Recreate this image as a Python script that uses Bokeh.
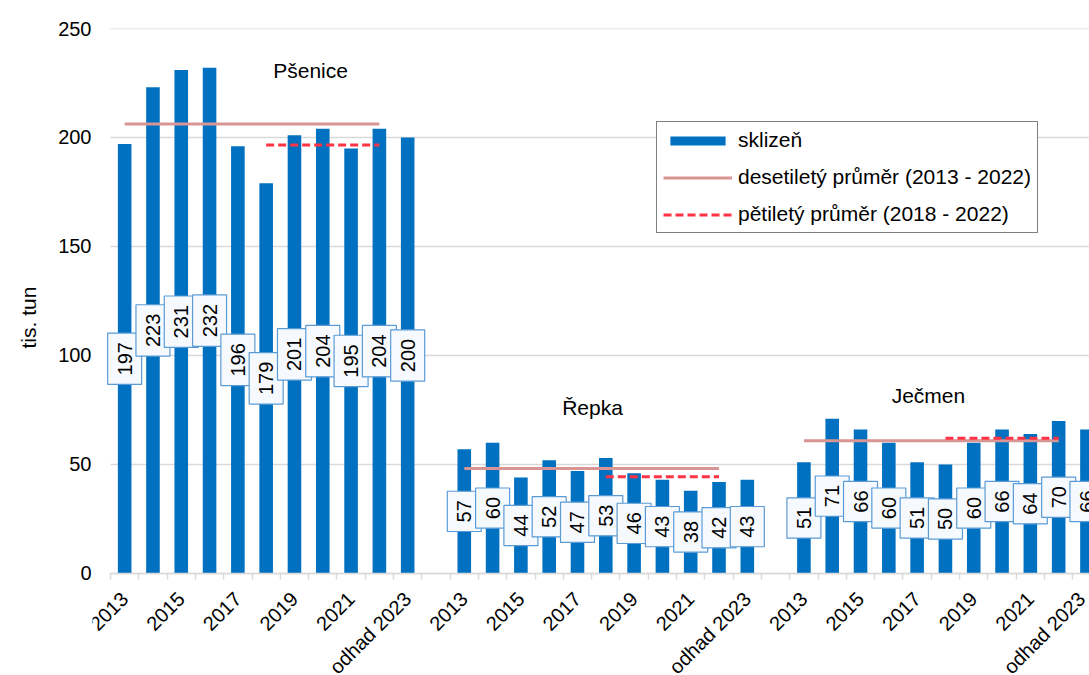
import math
from bokeh.plotting import figure
from bokeh.models import (ColumnDataSource, FixedTicker, Legend, LegendItem, Range1d, Title)
from bokeh.core.properties import value
from bokeh.embed import file_html
from bokeh.resources import INLINE

# ---- data ----
crops = ["Pšenice", "Řepka", "Ječmen"]
years = ["2013", "2014", "2015", "2016", "2017", "2018", "2019", "2020", "2021", "2022", "odhad 2023"]
psenice = [197, 223, 231, 232, 196, 179, 201, 204, 195, 204, 200]
repka = [57, 60, 44, 52, 47, 53, 46, 43, 38, 42, 43]
jecmen = [51, 71, 66, 60, 51, 50, 60, 66, 64, 70, 66]
avg10 = [206.2, 48.2, 60.9]   # desetiletý průměr (2013 - 2022)
avg5 = [196.6, 44.4, 62.0]    # pětiletý průměr (2018 - 2022)
tick_years = ["2013", "2015", "2017", "2019", "2021", "odhad 2023"]
y_ticks = [0, 50, 100, 150, 200, 250]

series = [psenice, repka, jecmen]
slots_per_group = len(years) + 1

# ---- build sources ----
bx, by, lbl, ly = [], [], [], []
for g, vals in enumerate(series):
    for i, v in enumerate(vals):
        x = g * slots_per_group + i + 0.5
        bx.append(x)
        by.append(v)
        lbl.append(str(int(round(v))))
        ly.append(v / 2.0)
bars = ColumnDataSource(dict(x=bx, top=by))
labels = ColumnDataSource(dict(x=bx, y=ly, text=lbl))

i2013 = years.index("2013")
i2018 = years.index("2018")
i2022 = years.index("2022")
s10 = ColumnDataSource(dict(
    x0=[g * slots_per_group + i2013 + 0.5 for g in range(3)],
    x1=[g * slots_per_group + i2022 + 0.5 for g in range(3)],
    y=avg10))
s5 = ColumnDataSource(dict(
    x0=[g * slots_per_group + i2018 + 0.5 for g in range(3)],
    x1=[g * slots_per_group + i2022 + 0.5 for g in range(3)],
    y=avg5))

FONT = "Liberation Sans"
X_START, X_END = -0.636, 34.59

# frame runs to the bottom edge so the rotated category labels under y=0 are visible
p = figure(width=1089, height=675, output_backend="svg", toolbar_location=None,
           x_range=Range1d(X_START, X_END), y_range=Range1d(-46.79, 250),
           min_border_left=92, min_border_right=0, min_border_top=28, min_border_bottom=0)
p.outline_line_color = None
p.background_fill_color = "white"

# gridlines (only across the category area)
p.xgrid.grid_line_color = None
p.ygrid.grid_line_color = None
p.segment(x0=[0] * len(y_ticks), x1=[X_END] * len(y_ticks), y0=y_ticks, y1=y_ticks,
          line_color="#d9d9d9", line_width=1.5, level="underlay")

# bars
vb = p.vbar(x="x", top="top", width=0.48, source=bars, fill_color="#0070c0", line_color=None)

# averages
l10 = p.segment(x0="x0", y0="y", x1="x1", y1="y", source=s10, line_color="#d99594", line_width=3)
l5 = p.segment(x0="x0", y0="y", x1="x1", y1="y", source=s5, line_color="#ff3344", line_width=3,
               line_dash="8 4")

# data labels
p.text(x="x", y="y", text="text", source=labels, angle=math.pi / 2,
       text_align="center", text_baseline="middle", text_font=value(FONT),
       text_font_size="20px", text_color="black",
       background_fill_color="#f6fafe", border_line_color="#5b9bd5", border_line_width=1.2,
       padding=dict(left=9, right=9, top=10, bottom=10))

# group titles (layout positions)
title_x = [7.07, 17.03, 28.9]
title_y = [230.7, 76.1, 81.7]
p.text(x=title_x, y=title_y, text=crops, text_align="center", text_baseline="middle",
       text_font=value(FONT), text_font_size="21px", text_color="black")

# x axis at y = 0
tick_pos, tick_lab = [], {}
for g in range(3):
    for t in tick_years:
        pos = g * slots_per_group + years.index(t) + 0.5
        tick_pos.append(pos)
        tick_lab[pos] = t
boundaries = list(range(0, 3 * slots_per_group + 1))
p.xaxis.fixed_location = 0
p.xaxis.bounds = (0, X_END)
p.xaxis.ticker = FixedTicker(ticks=tick_pos, minor_ticks=boundaries)
p.xaxis.major_label_overrides = tick_lab
p.xaxis.major_label_orientation = math.pi / 4
p.xaxis.major_tick_line_color = None
p.xaxis.major_tick_out = 0
p.xaxis.major_tick_in = 0
p.xaxis.minor_tick_line_color = "#d9d9d9"
p.xaxis.minor_tick_line_width = 1.5
p.xaxis.minor_tick_out = 6
p.xaxis.minor_tick_in = 0
p.xaxis.axis_line_color = "#d9d9d9"
p.xaxis.axis_line_width = 1.5
p.xaxis.major_label_text_font = FONT
p.xaxis.major_label_text_font_size = "20px"
p.xaxis.major_label_text_color = "black"
p.xaxis.major_label_standoff = 16

p.yaxis.ticker = FixedTicker(ticks=y_ticks)
p.yaxis.axis_line_color = None
p.yaxis.major_tick_line_color = None
p.yaxis.minor_tick_line_color = None
p.yaxis.major_tick_out = 0
p.yaxis.major_label_text_font = FONT
p.yaxis.major_label_text_font_size = "20px"
p.yaxis.major_label_text_color = "black"
p.yaxis.major_label_standoff = 1

# y axis title, placed along the left side
ytitle = Title(text="tis. tun", align="left", offset=327, vertical_align="middle",
               standoff=30, text_font=FONT, text_font_size="21px",
               text_font_style="normal", text_color="black")
p.add_layout(ytitle, "left")

# legend
legend = Legend(items=[
    LegendItem(label="sklizeň", renderers=[vb]),
    LegendItem(label="desetiletý průměr (2013 - 2022)", renderers=[l10]),
    LegendItem(label="pětiletý průměr (2018 - 2022)", renderers=[l5]),
], location=(564, 442))
legend.border_line_color = "black"
legend.border_line_width = 1.5
legend.background_fill_color = "white"
legend.background_fill_alpha = 1
legend.label_text_font = FONT
legend.label_text_font_size = "21px"
legend.label_text_color = "black"
legend.glyph_width = 69
legend.glyph_height = 11
legend.label_standoff = 6
legend.padding = 6
legend.spacing = 13
legend.margin = 0
p.add_layout(legend, "center")

open("out.html", "w").write(file_html(p, INLINE))
